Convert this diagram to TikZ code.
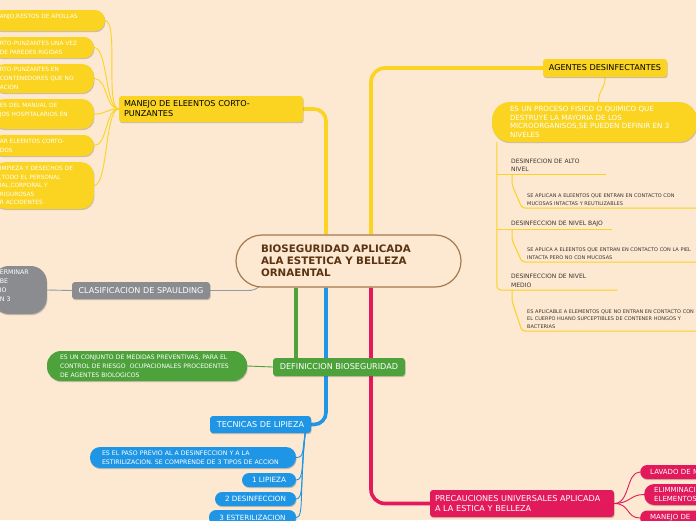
\documentclass[tikz,border=0pt]{standalone}
\usepackage{fontspec}
\setmainfont{DejaVu Sans}
\usetikzlibrary{positioning,shadows,backgrounds}

\definecolor{paper}{HTML}{FDE8D1}
\definecolor{ycol}{HTML}{FAD420}
\definecolor{gcol}{HTML}{4DA23B}
\definecolor{bcol}{HTML}{1F96E5}
\definecolor{pcol}{HTML}{E21A5C}
\definecolor{grcol}{HTML}{8B8C90}
\definecolor{grline}{HTML}{8E9AA6}
\definecolor{brn}{HTML}{A57A4E}
\definecolor{brntext}{HTML}{5A3412}
\definecolor{lvltext}{HTML}{3B3631}

\newcommand{\fsz}[2]{\fontsize{#1}{#2}\selectfont}

\begin{document}
\begin{tikzpicture}[
    x=1pt, y=-1pt,
    lift/.style={drop shadow={shadow xshift=0.6pt, shadow yshift=-1.2pt, opacity=0.28, fill=black!70}},
    topic/.style={rectangle, rounded corners=3pt, inner xsep=4pt, inner ysep=2pt, font=\fsz{8.1}{10}, text=white, lift},
    leaf/.style={rectangle, align=left, inner xsep=7pt, inner ysep=2pt, text=white, lift},
    twig/.style={line width=0.9pt},
    trunk/.style={line width=3.6pt},
    lvl/.style={anchor=south west, align=left, inner xsep=0pt, inner ysep=2.5pt, text=lvltext},
    lvlline/.style={ycol, line width=1pt}
]
\useasboundingbox (0,0) rectangle (696,520);

% centro
\node[draw=brn, line width=1.2pt, fill=paper, rounded corners=26pt, minimum width=225pt, minimum height=52pt,
      text width=175pt, align=left, font=\bfseries\fsz{10.3}{12}, text=brntext] (root) at (348.5,261)
      {BIOSEGURIDAD APLICADA\\ALA ESTETICA Y BELLEZA\\ORNAENTAL};

% ramas principales
\node[topic, fill=ycol, text=black, minimum width=184pt, minimum height=26pt, text width=174pt, align=left] (manejo) at (211,109) {MANEJO DE ELEENTOS CORTO-\\PUNZANTES};
\node[topic, fill=ycol, text=black, minimum width=124pt, minimum height=18pt] (agentes) at (605,68) {AGENTES DESINFECTANTES};
\node[topic, fill=grcol, minimum width=138pt, minimum height=17pt] (spaul) at (141,290.5) {CLASIFICACION DE SPAULDING};
\node[topic, fill=gcol, minimum width=132pt, minimum height=18pt] (defin) at (339,367) {DEFINICCION BIOSEGURIDAD};
\node[topic, fill=bcol, minimum width=101pt, minimum height=17pt] (tecnicas) at (260.5,424.5) {TECNICAS DE LIPIEZA};
\node[topic, fill=pcol, minimum width=184pt, minimum height=27pt, text width=174pt, align=left] (precau) at (522,503.5) {PRECAUCIONES UNIVERSALES APLICADA\\A LA ESTICA Y BELLEZA};

% hojas de manejo
\node[leaf, fill=ycol, font=\fsz{5.8}{8.8}, anchor=east, text width=98pt, minimum height=21pt, rounded corners=10pt] (m1) at (105,20.5) {ANJO,RESTOS DE APOLLAS\\~};
\node[leaf, fill=ycol, font=\fsz{5.8}{8.8}, anchor=east, text width=87pt, minimum height=21pt, rounded corners=10pt] (m2) at (94,47.5) {RTO-PUNZANTES UNA VEZ\\DE PAREDES RIGIDAS};
\node[leaf, fill=ycol, font=\fsz{5.8}{8.8}, anchor=east, text width=87pt, minimum height=29pt, rounded corners=12pt] (m3) at (94,78.5) {RTO-PUNZANTES EN\\CONTENEDORES QUE NO\\ACION};
\node[leaf, fill=ycol, font=\fsz{5.8}{8.8}, anchor=east, text width=87pt, minimum height=30pt, rounded corners=12pt] (m4) at (94,114) {ES DEL MANUAL DE\\JOS HOSPITALARIOS EN\\~};
\node[leaf, fill=ycol, font=\fsz{5.8}{8.8}, anchor=east, text width=87pt, minimum height=21pt, rounded corners=10pt] (m5) at (94,145.5) {AR ELEENTOS CORTO-\\DOS};
\node[leaf, fill=ycol, font=\fsz{5.8}{8.6}, anchor=east, text width=87pt, minimum height=47pt, rounded corners=13pt] (m6) at (94,185.5) {IMPIEZA Y DESECHOS DE\\,TODO EL PERSONAL\\IAL,CORPORAL Y\\RIGUROSAS\\R ACCIDENTES};

% agentes desinfectantes
\node[leaf, fill=ycol, font=\fsz{7.1}{8.5}, minimum width=205pt, minimum height=40pt, text width=169pt, rounded corners=18pt] (proceso) at (594.5,122) {ES UN PROCESO FISICO O QUIMICO QUE\\DESTRUYE LA MAYORIA DE LOS\\MICROORGANISOS,SE PUEDEN DEFINIR EN 3\\NIVELES};
\coordinate (trunk) at ([xshift=5pt]proceso.south west);
\node[lvl, text width=95pt, font=\fsz{6}{8.3}] (alto) at (511,174) {DESINFECION DE ALTO\\NIVEL};
\node[lvl, text width=175pt, font=\fsz{5}{7.8}] (aplican) at (527,208) {SE APLICAN A ELEENTOS QUE ENTRAN EN CONTACTO CON\\MUCOSAS INTACTAS Y REUTILIZABLES};
\node[lvl, text width=101pt, font=\fsz{6}{8.3}] (bajo) at (511,229) {DESINFECCION DE NIVEL BAJO};
\node[lvl, text width=175pt, font=\fsz{5}{7.8}] (aplica) at (527,262) {SE APLICA A ELEENTOS QUE ENTRAN EN CONTACTO CON LA PIEL\\INTACTA PERO NO CON MUCOSAS};
\node[lvl, text width=106pt, font=\fsz{6}{8.3}] (medio) at (511,290) {DESINFECCION DE NIVEL\\MEDIO};
\node[lvl, text width=175pt, font=\fsz{5}{7.6}] (aplicable) at (527,331) {ES APLICABLE A ELEMENTOS QUE NO ENTRAN EN CONTACTO CON\\EL CUERPO HUANO SUPCEPTIBLES DE CONTENER HONGOS Y\\BACTERIAS};

% spaulding
\node[leaf, fill=grcol, font=\fsz{6.3}{9}, anchor=east, text width=40pt, minimum height=48pt, rounded corners=16pt] (grleaf) at (47,290) {ERMINAR\\BE\\IO\\N 3\\~};

% definicion
\node[leaf, fill=gcol, font=\fsz{6.1}{9}, minimum width=200pt, minimum height=30pt, text width=174pt, rounded corners=14pt] (gleaf) at (147,366) {ES UN CONJUNTO DE MEDIDAS PREVENTIVAS, PARA EL\\CONTROL DE RIESGO \ OCUPACIONALES PROCEDENTES\\DE AGENTES BIOLOGICOS};

% tecnicas
\node[leaf, fill=bcol, font=\fsz{6.2}{9}, minimum width=206pt, minimum height=21pt, text width=182pt, rounded corners=10pt] (paso) at (193,457.5) {ES EL PASO PREVIO AL A DESINFECCION Y A LA\\ESTIRILIZACION. SE COMPRENDE DE 3 TIPOS DE ACCION};
\node[leaf, fill=bcol, font=\fsz{7.2}{9}, minimum width=54pt, minimum height=14pt, rounded corners=7pt] (lip1) at (269,480) {1 LIPIEZA};
\node[leaf, fill=bcol, font=\fsz{7.2}{9}, minimum width=81pt, minimum height=14pt, rounded corners=7pt] (lip2) at (255.5,499) {2 DESINFECCION};
\node[leaf, fill=bcol, font=\fsz{7.2}{9}, minimum width=87pt, minimum height=15pt, rounded corners=7pt] (lip3) at (252.5,517.5) {3 ESTERILIZACION};

% precauciones
\node[leaf, fill=pcol, font=\fsz{7}{9}, anchor=west, inner xsep=10pt, text width=60pt, minimum height=14pt, rounded corners=7pt] (lavado) at (640,472) {LAVADO DE M};
\node[leaf, fill=pcol, font=\fsz{7}{9}, anchor=west, inner xsep=10pt, text width=60pt, minimum height=21pt, rounded corners=10pt] (elim) at (644,494.5) {ELIMMINACI\\ELEMENTOS};
\node[leaf, fill=pcol, font=\fsz{7}{9}, anchor=west, inner xsep=10pt, text width=60pt, minimum height=15pt, rounded corners=7pt] (manejob) at (640,518) {MANEJO DE};

\begin{scope}[on background layer]
\fill[paper] (0,0) rectangle (696,520);
% troncos
\draw[trunk, ycol, rounded corners=12pt] ([xshift=-22.5pt]root.north) |- (manejo.east);
\draw[trunk, ycol, rounded corners=14pt] ([xshift=22.5pt]root.north) |- (agentes.west);
\draw[trunk, gcol] ([xshift=-52.5pt]root.south) -- ([xshift=-52.5pt]root.south |- defin.north);
\draw[trunk, bcol, rounded corners=12pt] ([xshift=-22.5pt]root.south) |- (tecnicas.east);
\draw[trunk, pcol, rounded corners=14pt] ([xshift=22.5pt]root.south) |- (precau.west);
\draw[twig, grline] (spaul.east) -- ++(36,0) .. controls +(8,0) and +(-5,3) .. ([xshift=24pt,yshift=1pt]root.south west);

% ramitas
\draw[twig, ycol] (manejo.west) .. controls +(-14,0) and +(14,0) .. (m1.east);
\draw[twig, ycol] (manejo.west) .. controls +(-14,0) and +(14,0) .. (m2.east);
\draw[twig, ycol] (manejo.west) .. controls +(-14,0) and +(14,0) .. (m3.east);
\draw[twig, ycol] (manejo.west) .. controls +(-14,0) and +(14,0) .. (m4.east);
\draw[twig, ycol] (manejo.west) .. controls +(-14,0) and +(14,0) .. (m5.east);
\draw[twig, ycol] (manejo.west) .. controls +(-14,0) and +(14,0) .. (m6.east);
\draw[twig, ycol] (agentes.south) .. controls +(0,12) and +(0,-12) .. ([xshift=4pt]proceso.north);

\draw[lvlline, rounded corners=4pt] (trunk) |- (medio.south east);
\draw[lvlline] (trunk |- alto.south) -- (alto.south east);
\draw[lvlline] (trunk |- bajo.south) -- (bajo.south east);
\draw[lvlline, rounded corners=3pt] ([xshift=1pt]alto.south west) -- ++(0,11) -- ([xshift=-5pt]aplican.south west) -- (aplican.south east);
\draw[lvlline, rounded corners=3pt] ([xshift=1pt]bajo.south west) -- ++(0,11) -- ([xshift=-5pt]aplica.south west) -- (aplica.south east);
\draw[lvlline, rounded corners=3pt] ([xshift=1pt]medio.south west) -- ++(0,11) -- ([xshift=-5pt]aplicable.south west) -- (aplicable.south east);

\draw[twig, grline] (spaul.west) -- (grleaf.east);
\draw[twig, gcol] (gleaf.east) -- (defin.west);

\draw[twig, bcol] ([xshift=-6pt]tecnicas.south east) .. controls +(-3,18) and +(8,0) .. (paso.east);
\draw[twig, bcol] ([xshift=-6pt]tecnicas.south east) .. controls +(-4,30) and +(8,0) .. (lip1.east);
\draw[twig, bcol] ([xshift=-6pt]tecnicas.south east) .. controls +(-5,45) and +(8,0) .. (lip2.east);
\draw[twig, bcol] ([xshift=-6pt]tecnicas.south east) .. controls +(-6,60) and +(8,0) .. (lip3.east);

\draw[twig, pcol] (precau.east) .. controls +(16,0) and +(-14,0) .. (lavado.west);
\draw[twig, pcol] (precau.east) .. controls +(16,0) and +(-14,0) .. (elim.west);
\draw[twig, pcol] (precau.east) .. controls +(16,0) and +(-14,0) .. (manejob.west);
\end{scope}
\end{tikzpicture}
\end{document}
